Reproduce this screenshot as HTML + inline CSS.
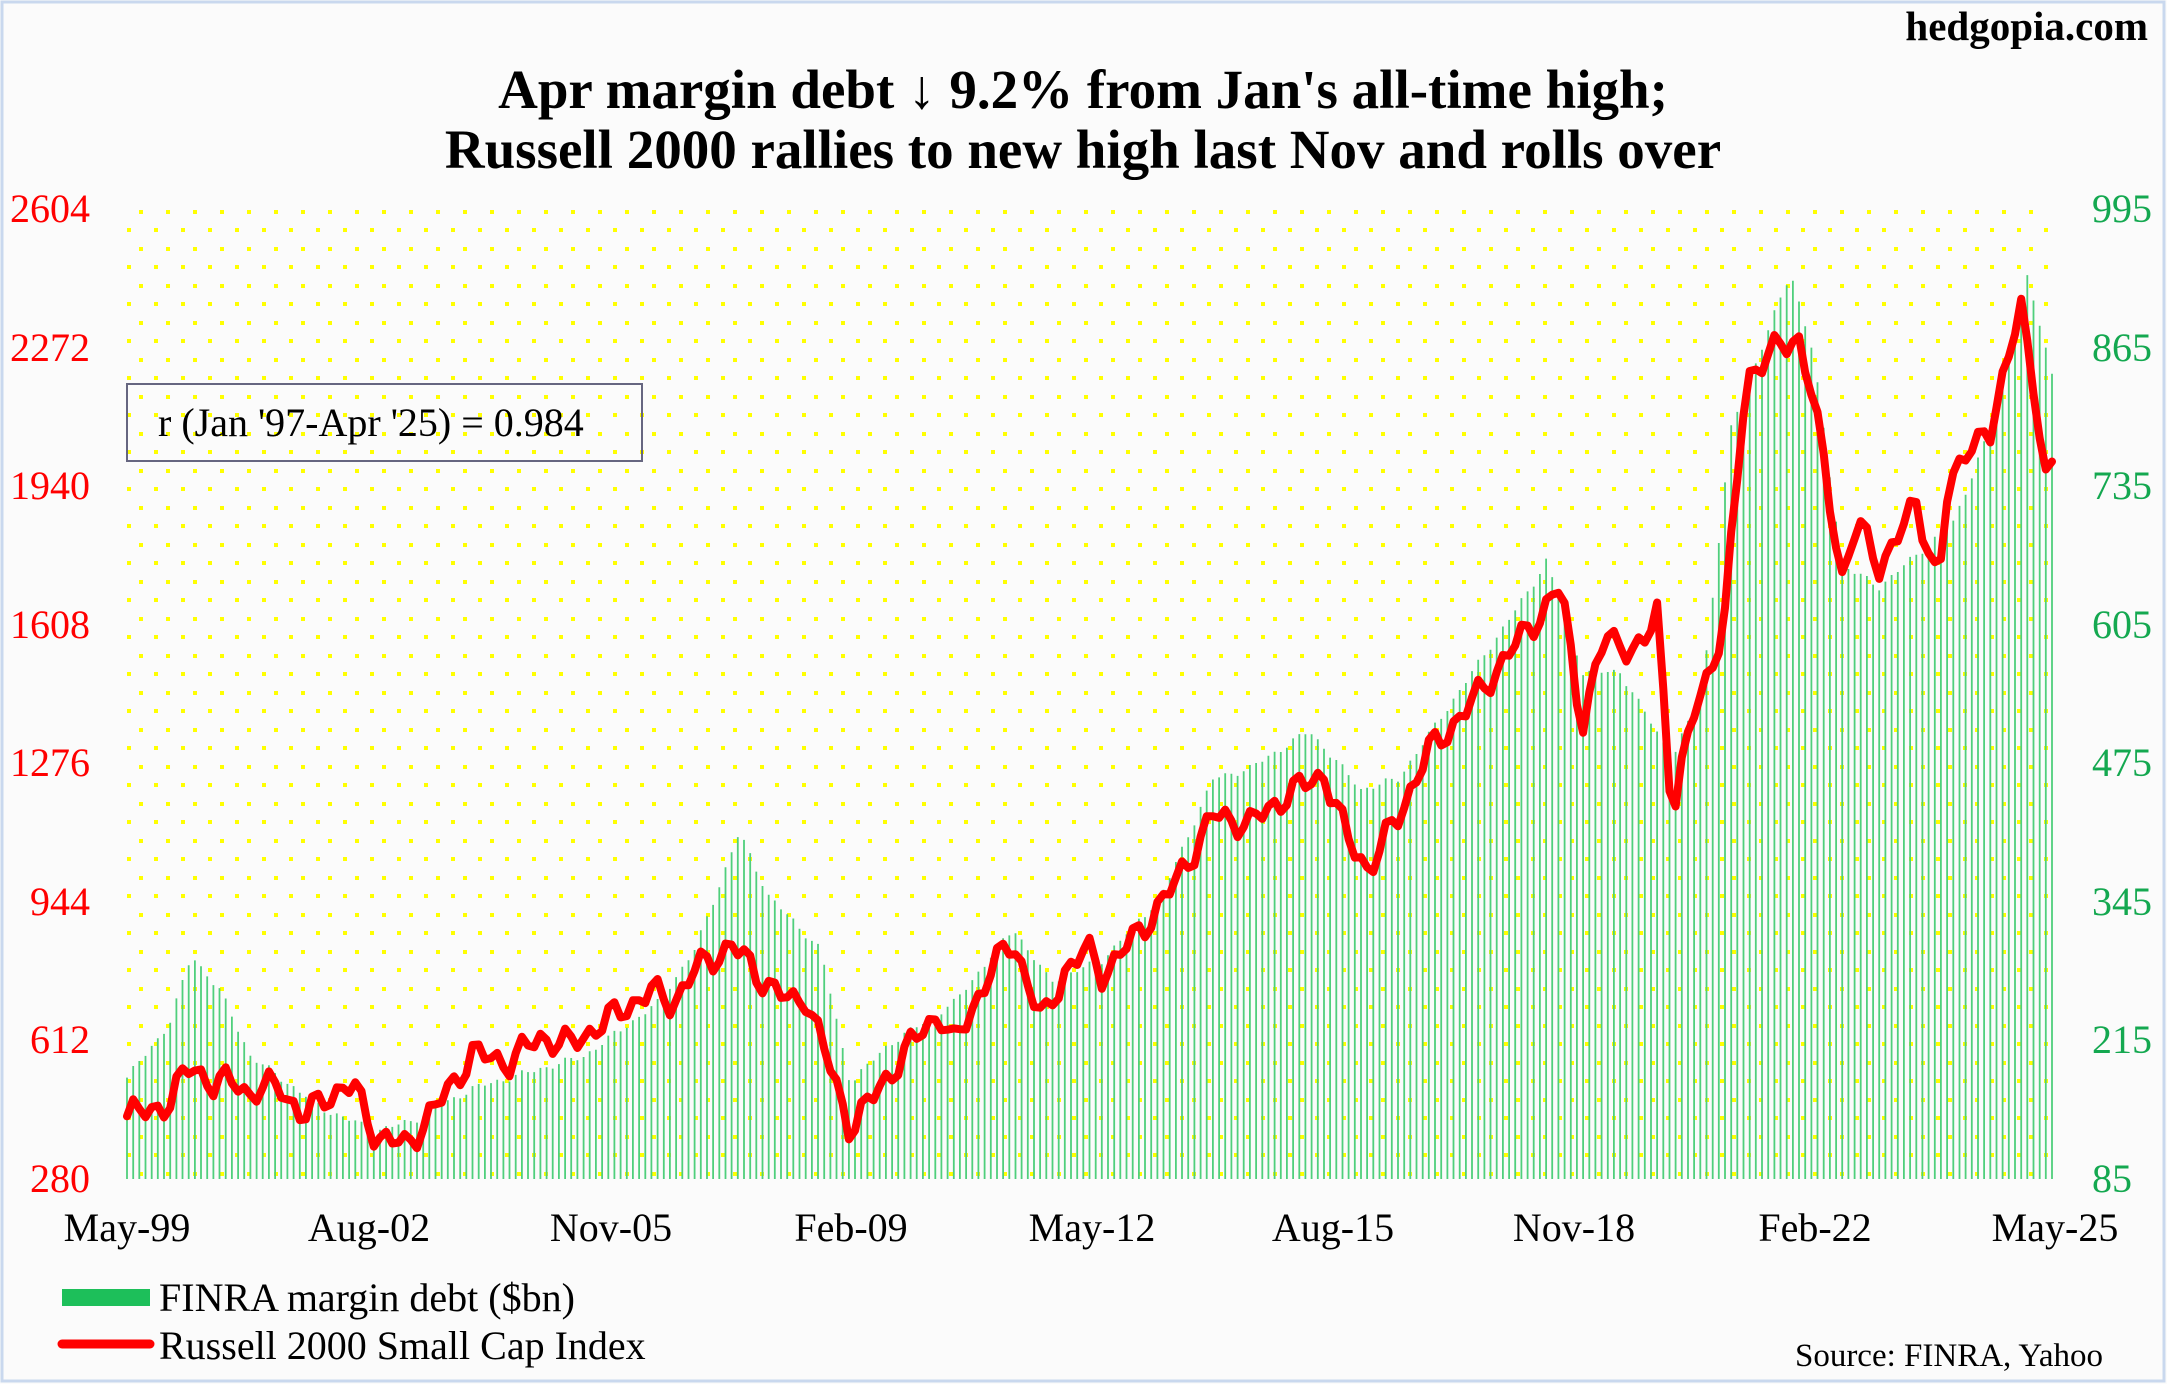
<!DOCTYPE html>
<html><head><meta charset="utf-8"><style>
html,body{margin:0;padding:0;background:#fff}
body{width:2167px;height:1384px;overflow:hidden;font-family:"Liberation Serif",serif}
</style></head><body>
<svg id="s" width="2167" height="1384" xmlns="http://www.w3.org/2000/svg" font-family="Liberation Serif, serif">
<defs>
<pattern id="dots" x="127" y="208" width="27" height="37" patternUnits="userSpaceOnUse">
<rect x="12" y="2" width="4" height="4" fill="#ffff00"/>
<rect x="0" y="20" width="4" height="4" fill="#ffff00"/>
</pattern>
</defs>
<rect x="0" y="0" width="2167" height="1384" fill="#fbfbfb"/>
<rect x="2" y="2" width="2162" height="1379" fill="none" stroke="#c9d8ee" stroke-width="3"/>
<rect x="127" y="208" width="1925" height="971" fill="url(#dots)"/>
<g id="bars"></g>
<g id="line"></g>
<text x="2148" y="40" text-anchor="end" font-size="41" font-weight="bold">hedgopia.com</text>
<text x="1083" y="108" text-anchor="middle" font-size="55" font-weight="bold">Apr margin debt ↓ 9.2% from Jan's all-time high;</text>
<text x="1083" y="168" text-anchor="middle" font-size="55" font-weight="bold">Russell 2000 rallies to new high last Nov and rolls over</text>
<g font-size="40" fill="#ff0000" text-anchor="end">
<text x="90" y="222">2604</text><text x="90" y="361">2272</text><text x="90" y="499">1940</text>
<text x="90" y="638">1608</text><text x="90" y="776">1276</text><text x="90" y="915">944</text>
<text x="90" y="1053">612</text><text x="90" y="1192">280</text>
</g>
<g font-size="40" fill="#14a850" text-anchor="start">
<text x="2092" y="222">995</text><text x="2092" y="361">865</text><text x="2092" y="499">735</text>
<text x="2092" y="638">605</text><text x="2092" y="776">475</text><text x="2092" y="915">345</text>
<text x="2092" y="1053">215</text><text x="2092" y="1192">85</text>
</g>
<g font-size="40" text-anchor="middle">
<text x="127" y="1241">May-99</text><text x="369" y="1241">Aug-02</text><text x="611" y="1241">Nov-05</text>
<text x="851" y="1241">Feb-09</text><text x="1092" y="1241">May-12</text><text x="1333" y="1241">Aug-15</text>
<text x="1574" y="1241">Nov-18</text><text x="1815" y="1241">Feb-22</text><text x="2055" y="1241">May-25</text>
</g>
<rect x="127" y="384" width="515" height="77" fill="none" stroke="#666680" stroke-width="2"/>
<text x="158" y="436" font-size="40">r (Jan '97-Apr '25) = 0.984</text>
<rect x="62" y="1289" width="88" height="17" fill="#1dbf5a"/>
<text x="159" y="1311" font-size="40">FINRA margin debt ($bn)</text>
<line x1="62" y1="1344" x2="150" y2="1344" stroke="#ff0000" stroke-width="9" stroke-linecap="round"/>
<text x="159" y="1359" font-size="40">Russell 2000 Small Cap Index</text>
<text x="2103" y="1366" text-anchor="end" font-size="33">Source: FINRA, Yahoo</text>
</svg>
<script>
var R=[[1999.33,430],[1999.9,460],[2000.2,560],[2000.5,500],[2000.8,520],[2001.0,480],[2001.4,510],[2001.7,420],[2002.0,480],[2002.4,500],[2002.7,380],[2003.1,360],[2003.5,450],[2004.0,580],[2004.5,560],[2004.9,620],[2005.3,600],[2005.9,670],[2006.4,730],[2006.7,700],[2007.0,780],[2007.5,840],[2007.9,760],[2008.3,700],[2008.5,720],[2008.8,560],[2009.1,400],[2009.5,500],[2010.0,620],[2010.3,680],[2010.5,600],[2011.0,780],[2011.3,850],[2011.7,650],[2012.0,780],[2012.3,830],[2012.5,770],[2013.0,870],[2013.5,990],[2014.0,1150],[2014.5,1130],[2015.0,1200],[2015.5,1250],[2015.8,1100],[2016.1,1020],[2016.5,1150],[2016.9,1300],[2017.5,1420],[2018.0,1540],[2018.5,1650],[2018.7,1700],[2018.9,1450],[2019.0,1380],[2019.3,1580],[2019.8,1540],[2020.0,1650],[2020.2,1150],[2020.5,1400],[2020.9,1600],[2021.2,2200],[2021.5,2250],[2021.9,2300],[2022.1,2150],[2022.5,1720],[2022.7,1850],[2023.0,1750],[2023.2,1800],[2023.5,1900],[2023.8,1700],[2023.9,1900],[2024.2,2050],[2024.5,2050],[2024.9,2400],[2025.0,2250],[2025.25,1960],[2025.33,2000]];
var M=[[1999.33,180],[1999.9,230],[2000.2,295],[2000.6,260],[2001.0,200],[2002.0,150],[2002.7,130],[2003.2,140],[2004.0,170],[2005.5,200],[2006.5,250],[2007.0,300],[2007.6,410],[2008.0,350],[2008.7,300],[2009.1,175],[2009.6,210],[2010.5,250],[2011.3,320],[2011.8,270],[2012.5,290],[2013.3,350],[2014.0,460],[2014.5,470],[2015.3,505],[2016.0,450],[2016.5,460],[2017.5,560],[2018.3,640],[2018.5,665],[2019.0,560],[2019.5,560],[2020.2,480],[2020.6,540],[2021.0,790],[2021.8,935],[2022.1,860],[2022.5,660],[2023.0,640],[2023.5,670],[2024.0,700],[2024.5,790],[2024.9,900],[2025.0,930],[2025.33,840]];
function interp(a,t){for(var i=0;i<a.length-1;i++){if(t<=a[i+1][0]){var f=(t-a[i][0])/(a[i+1][0]-a[i][0]);return a[i][1]+f*(a[i+1][1]-a[i][1]);}}return a[a.length-1][1];}
var t0=1999.33,t1=2025.33,x0=127,x1=2052,N=312;
function X(t){return x0+(t-t0)/(t1-t0)*(x1-x0);}
var bars='',pts=[];
for(var i=0;i<=N;i++){var t=t0+i/12;if(t>t1)t=t1;var x=X(t);
var w=Math.sin(i*1.7)*6+Math.sin(i*0.9)*4;
var m=interp(M,t)+w*0.4;var ym=1179-(m-85)/910*971;
bars+='<line x1="'+x.toFixed(1)+'" y1="1179" x2="'+x.toFixed(1)+'" y2="'+ym.toFixed(1)+'" stroke="#4fcf7c" stroke-width="1.8"/>';
var r=interp(R,t)+w*4;var yr=1179-(r-280)/2324*971;pts.push(x.toFixed(1)+','+yr.toFixed(1));}
document.getElementById('bars').innerHTML=bars;
document.getElementById('line').innerHTML='<polyline points="'+pts.join(' ')+'" fill="none" stroke="#ff0000" stroke-width="8" stroke-linejoin="round" stroke-linecap="round"/>';
</script>
</body></html>
